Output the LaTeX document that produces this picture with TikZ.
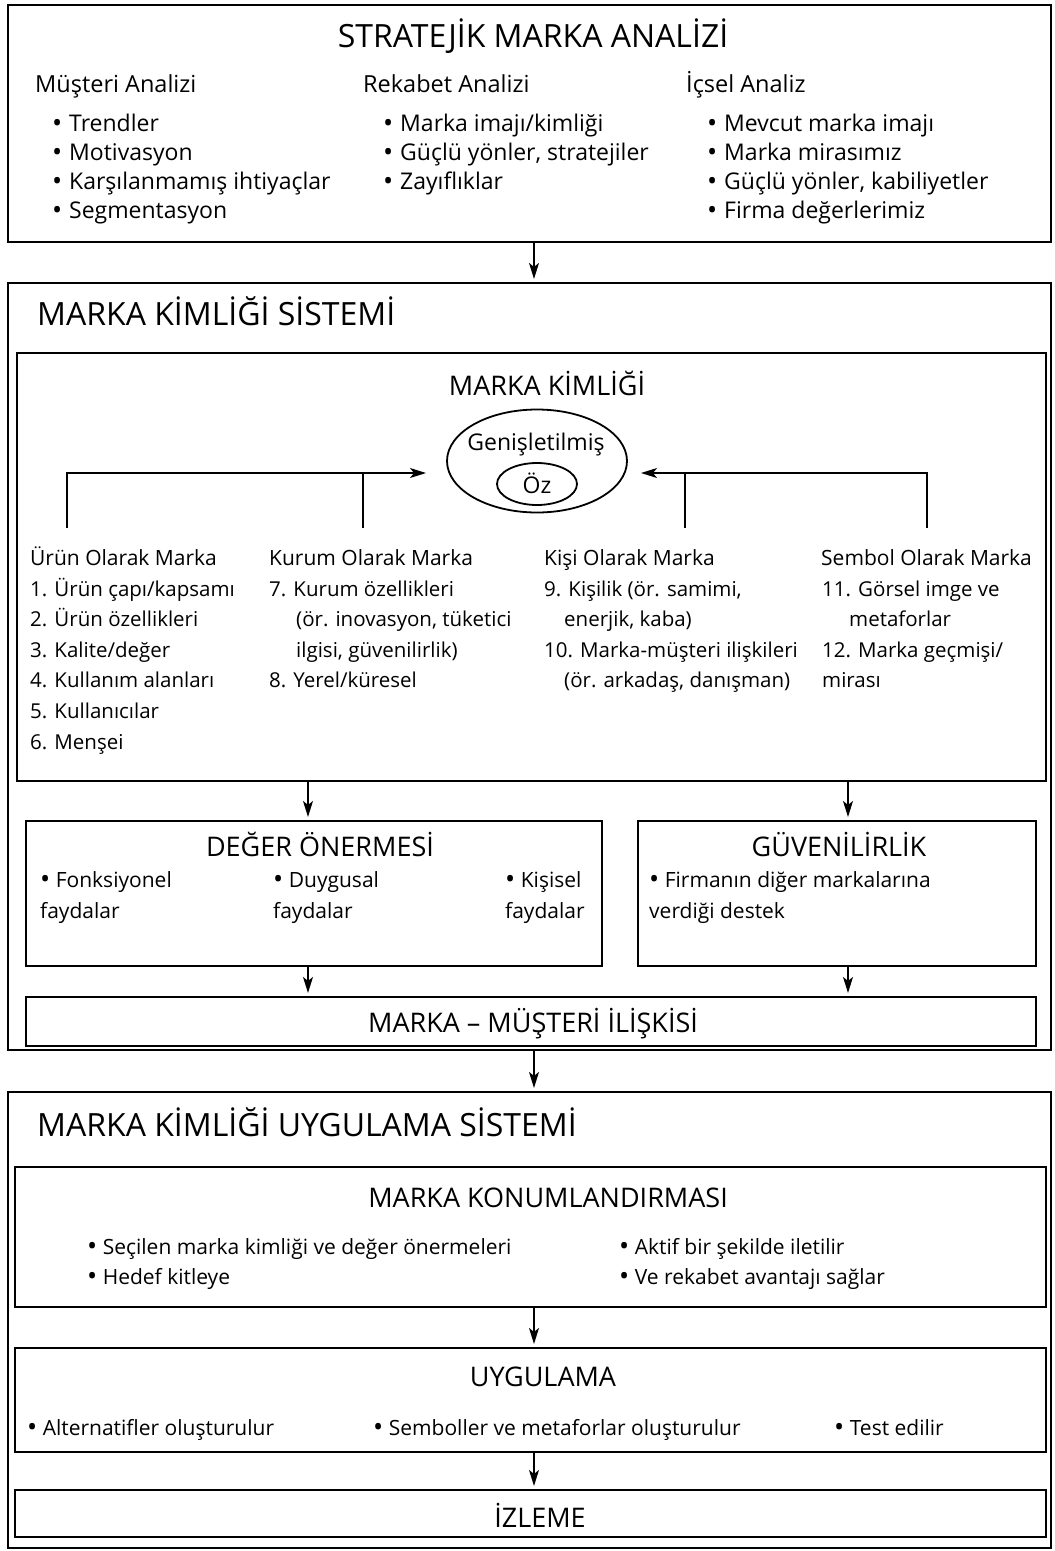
\documentclass[tikz,border=0pt]{standalone}
\usepackage{fontspec}
\setmainfont{Open Sans}
\usetikzlibrary{arrows.meta,shapes.geometric}
\newcommand\myfs[1]{\fontsize{#1}{#1}\selectfont}
\newcommand\bigbul{\raisebox{-1.5pt}{\fontsize{27}{27}\selectfont •}}
\newcommand\bl{\makebox[17pt][l]{\bigbul}}
\newcommand\bu{\bigbul\ }
\tikzset{
 box/.style={draw, line width=2.1pt, inner sep=0pt},
 arr/.style={line width=1.5pt, -{Stealth[length=16pt,width=10pt,inset=4pt]}, shorten >=3pt},
 ln/.style={line width=1.5pt},
 txt/.style={inner sep=0pt, anchor=base west},
 ttl/.style={inner sep=0pt, font=\myfs{32}},
 sttl/.style={inner sep=0pt, anchor=base, font=\myfs{27}},
 hA/.style={txt, font=\myfs{23.5}},
 tA/.style={txt, font=\myfs{23}},
 hB/.style={txt, font=\myfs{21}},
 tB/.style={txt, font=\myfs{20.5}},
 tC/.style={txt, font=\myfs{21}},
}
\begin{document}
\begin{tikzpicture}[x=1pt,y=-1pt]
\useasboundingbox (0,0) rectangle (1055,1551);
% ---------- boxes
\node[box, minimum width=1043pt, minimum height=237pt] (sma) at (529.5,123.5) {};
\node[box, minimum width=1043pt, minimum height=767pt] (mks) at (529.5,666.5) {};
\node[box, minimum width=1029pt, minimum height=428pt] (mk) at (531.5,567) {};
\node[box, minimum width=576pt, minimum height=145pt] (deg) at (314,893.5) {};
\node[box, minimum width=398pt, minimum height=145pt] (guv) at (837,893.5) {};
\node[box, minimum width=1010pt, minimum height=49pt] (mm) at (531,1021.5) {};
\node[box, minimum width=1043pt, minimum height=456pt] (mkus) at (529.5,1320) {};
\node[box, minimum width=1031pt, minimum height=140pt] (kon) at (530.5,1237) {};
\node[box, minimum width=1031pt, minimum height=104pt] (uyg) at (530.5,1400) {};
\node[box, minimum width=1031pt, minimum height=47pt] (izl) at (530.5,1513.5) {};
% ---------- vertical arrows
\coordinate (xm) at (534,0);
\coordinate (xl) at (308,0);
\coordinate (xr) at (848,0);
\draw[arr] (sma.south -| xm) -- (mks.north -| xm);
\draw[arr] (mk.south -| xl) -- (deg.north -| xl);
\draw[arr] (mk.south -| xr) -- (guv.north -| xr);
\draw[arr] (deg.south -| xl) -- (mm.north -| xl);
\draw[arr] (guv.south -| xr) -- (mm.north -| xr);
\draw[arr] (mks.south -| xm) -- (mkus.north -| xm);
\draw[arr] (kon.south -| xm) -- (uyg.north -| xm);
\draw[arr] (uyg.south -| xm) -- (izl.north -| xm);
% ---------- box 1
\node[ttl, anchor=base] (t1) at (533,47) {STRATEJİK MARKA ANALİZİ};
\node[hA] (h11) at (35,92) {Müşteri Analizi};
\node[hA] (h12) at (363,92) {Rekabet Analizi};
\node[hA] (h13) at (686,92) {İçsel Analiz};
\foreach \t [count=\i] in {Trendler, Motivasyon, Karşılanmamış ihtiyaçlar, Segmentasyon}
  \node[tA] (ma\i) at (52,{131+29*(\i-1)}) {\bl\t};
\foreach \t [count=\i] in {Marka imajı/kimliği, {Güçlü yönler, stratejiler}, Zayıflıklar}
  \node[tA] (ra\i) at (383,{131+29*(\i-1)}) {\bl\t};
\foreach \t [count=\i] in {Mevcut marka imajı, Marka mirasımız, {Güçlü yönler, kabiliyetler}, Firma değerlerimiz}
  \node[tA] (ia\i) at (707,{131+29*(\i-1)}) {\bl\t};
% ---------- box 2
\node[ttl, anchor=base west] (t2) at (37,325) {MARKA KİMLİĞİ SİSTEMİ};
\node[sttl] (t2a) at (547,395) {MARKA KİMLİĞİ};
\node[draw, ellipse, line width=1.8pt, minimum width=180pt, minimum height=103pt] (gen) at (537,461) {};
\node[txt, anchor=base, font=\myfs{23}] (gent) at (536,450) {Genişletilmiş};
\node[draw, ellipse, line width=1.8pt, minimum width=80pt, minimum height=42pt] (oz) at (537,484) {};
\node[txt, anchor=base, font=\myfs{23}] (ozt) at (537,493) {Öz};
\coordinate (l1) at (67,528);
\coordinate (l2) at (363,528);
\coordinate (r1) at (685,528);
\coordinate (r2) at (927,528);
\coordinate (lt) at (426,473);
\coordinate (rt) at (641,473);
\draw[arr, shorten >=0pt] (l1) |- (lt);
\draw[ln] (l2) -- (l2 |- lt);
\draw[arr, shorten >=0pt] (r2) |- (rt);
\draw[ln] (r1) -- (r1 |- rt);
\node[hB] (c1) at (30,565) {Ürün Olarak Marka};
\node[hB] (c2) at (269,565) {Kurum Olarak Marka};
\node[hB] (c3) at (544,565) {Kişi Olarak Marka};
\node[hB] (c4) at (821,565) {Sembol Olarak Marka};
\foreach \t [count=\i] in {1. Ürün çapı/kapsamı, 2. Ürün özellikleri, 3. Kalite/değer, 4. Kullanım alanları, 5. Kullanıcılar, 6. Menşei}
  \node[tB] (u\i) at (30,{596+30.6*(\i-1)}) {\t};
\node[tB] (k1) at (269,596) {7. Kurum özellikleri};
\node[tB] (k2) at (296,626.6) {(ör. inovasyon, tüketici};
\node[tB] (k3) at (296,657.2) {ilgisi, güvenilirlik)};
\node[tB] (k4) at (269,687.8) {8. Yerel/küresel};
\node[tB] (p1) at (544,596) {9. Kişilik (ör. samimi,};
\node[tB] (p2) at (564,626.6) {enerjik, kaba)};
\node[tB] (p3) at (544,657.2) {10. Marka-müşteri ilişkileri};
\node[tB] (p4) at (564,687.8) {(ör. arkadaş, danışman)};
\node[tB] (s1) at (822,596) {11. Görsel imge ve};
\node[tB] (s2) at (849,626.6) {metaforlar};
\node[tB] (s3) at (822,657.2) {12. Marka geçmişi/};
\node[tB] (s4) at (822,687.8) {mirası};
% DEĞER / GÜVEN
\node[sttl] (dt) at (320,856) {DEĞER ÖNERMESİ};
\node[tC] (d1) at (40,887) {\bu Fonksiyonel};
\node[tC] (d2) at (40,918) {faydalar};
\node[tC] (d3) at (273,887) {\bu Duygusal};
\node[tC] (d4) at (273,918) {faydalar};
\node[tC] (d5) at (505,887) {\bu Kişisel};
\node[tC] (d6) at (505,918) {faydalar};
\node[sttl] (gt) at (839,856) {GÜVENİLİRLİK};
\node[tC] (g1) at (649,887) {\bu Firmanın diğer markalarına};
\node[tC] (g2) at (649,918) {verdiği destek};
\node[sttl] (mmt) at (533,1032) {MARKA – MÜŞTERİ İLİŞKİSİ};
% ---------- box 3
\node[ttl, anchor=base west] (t3) at (37,1136) {MARKA KİMLİĞİ UYGULAMA SİSTEMİ};
\node[sttl] (kt) at (548,1207) {MARKA KONUMLANDIRMASI};
\node[tC] (kb1) at (87,1254) {\bu Seçilen marka kimliği ve değer önermeleri};
\node[tC] (kb2) at (87,1284) {\bu Hedef kitleye};
\node[tC] (kb3) at (619,1254) {\bu Aktif bir şekilde iletilir};
\node[tC] (kb4) at (619,1284) {\bu Ve rekabet avantajı sağlar};
\node[sttl] (ut) at (543,1386) {UYGULAMA};
\node[tC] (ub1) at (27,1435) {\bu Alternatifler oluşturulur};
\node[tC] (ub2) at (373,1435) {\bu Semboller ve metaforlar oluşturulur};
\node[tC] (ub3) at (834,1435) {\bu Test edilir};
\node[sttl] (it) at (540,1527) {İZLEME};
\end{tikzpicture}
\end{document}
